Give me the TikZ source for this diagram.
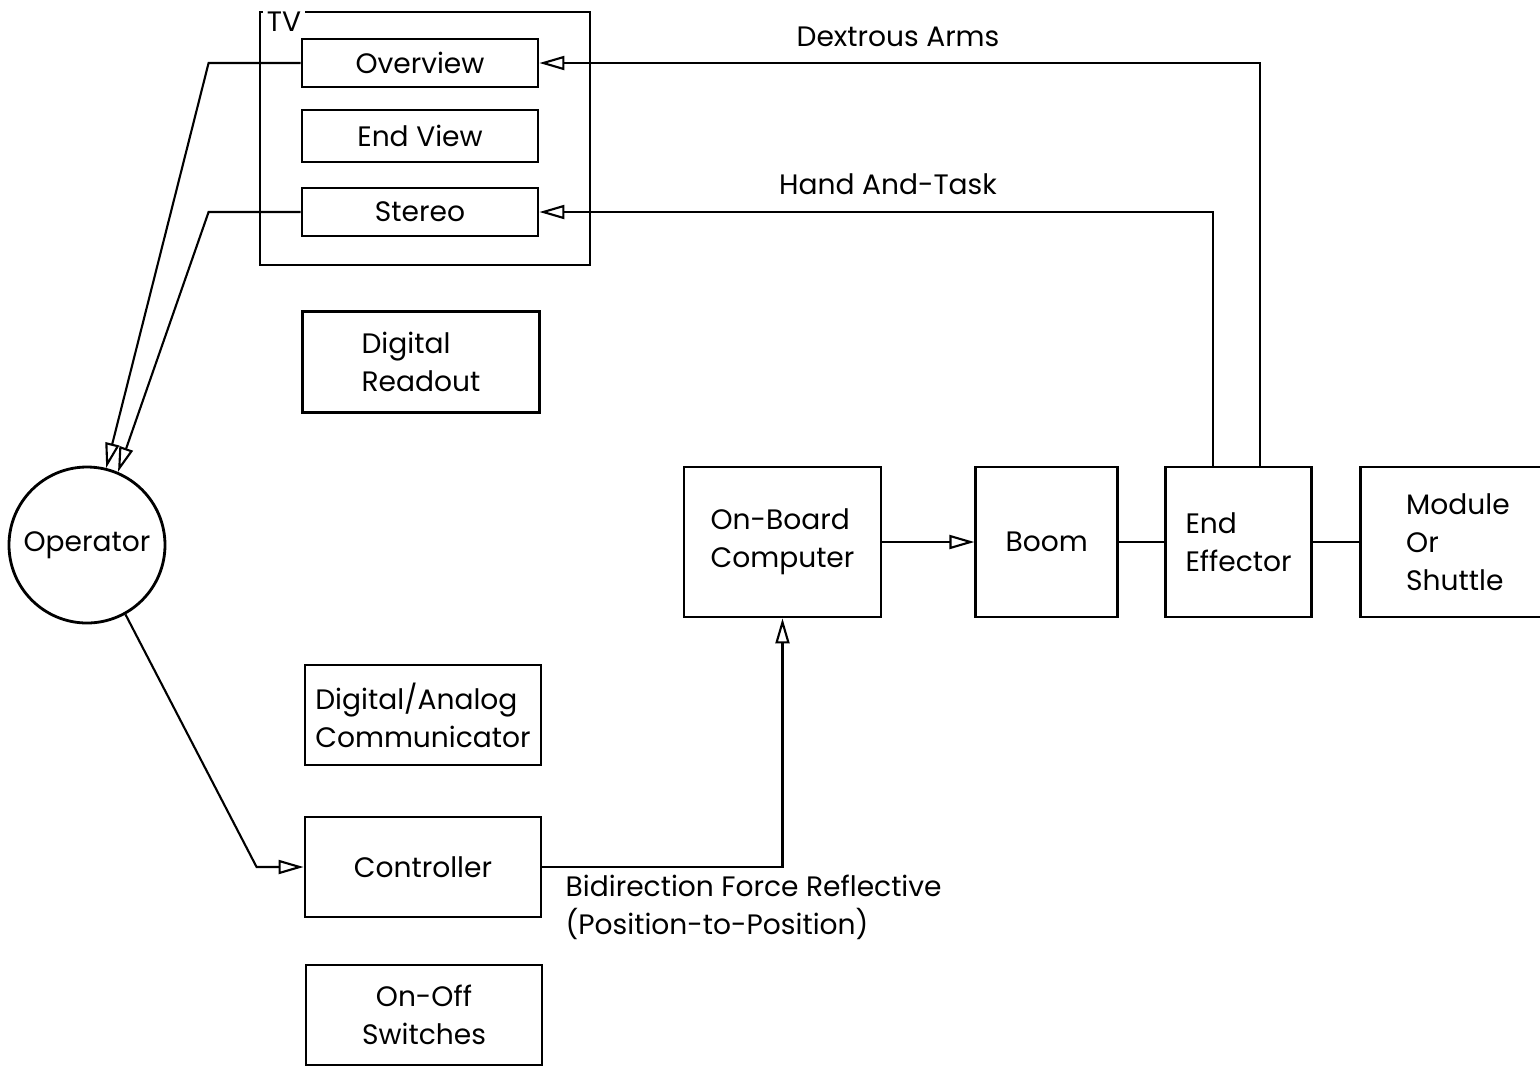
\documentclass[tikz,border=0pt]{standalone}
\usepackage{fontspec}
\setmainfont{Poppins}
\usetikzlibrary{arrows.meta,positioning,calc}

\begin{document}
\begin{tikzpicture}[
    every node/.style={font=\fontsize{8}{10.8}\selectfont},
    box/.style={rectangle, draw, line width=0.8pt, align=left,
                minimum height=1.0cm, minimum width=2.36cm, inner sep=2pt},
    tvbox/.style={rectangle, draw, line width=0.8pt, minimum height=0.48cm,
                  minimum width=2.36cm, inner sep=1pt},
    big/.style={rectangle, draw, line width=0.8pt, align=left, minimum height=1.5cm},
    opnode/.style={circle, draw, line width=0.8pt, minimum size=1.56cm, inner sep=0pt},
    arr/.style={-{Triangle[open,length=2.5mm,width=1.4mm]}, line width=0.6pt},
    wire/.style={line width=0.6pt},
    lbl/.style={align=left, inner sep=0pt},
]
\useasboundingbox (0,0) rectangle (15.4,-10.67);

% TV group
\node[draw, line width=0.8pt, minimum width=3.3cm, minimum height=2.53cm] (tvframe) at (4.25,-1.385) {};
\node[fill=white, inner sep=1pt, anchor=north west] (tv) at ($(tvframe.north west)+(0.04,0.03)$) {TV};
\node[tvbox] (overview) at (4.20,-0.63) {Overview};
\node[tvbox, minimum height=0.52cm] (endview) at (4.20,-1.36) {End View};
\node[tvbox] (stereo) at (4.20,-2.12) {Stereo};

% Left column
\node[opnode] (operator) at (0.87,-5.45) {Operator};
\node[box, minimum width=2.37cm, minimum height=1.01cm] (readout) at (4.21,-3.62) {Digital\\Readout};
\node[box] (comm) at (4.23,-7.15) {Digital/Analog\\Communicator};
\node[box] (controller) at (4.23,-8.67) {Controller};
\node[box, align=center] (onoff) at (4.24,-10.15) {On-Off\\Switches};

% Manipulator chain
\node[big, minimum width=1.97cm] (obc) at (7.825,-5.42) {On-Board\\Computer};
\node[big, minimum width=1.42cm, right=0.92cm of obc] (boom) {Boom};
\node[big, minimum width=1.46cm, right=0.45cm of boom] (effector) {End\\Effector};
\node[big, minimum width=1.95cm, right=0.46cm of effector] (module) {Module\\Or\\Shuttle};

% Labels
\node (dextrous) at (8.98,-0.37) {Dextrous Arms};
\node (handtask) at (8.88,-1.84) {Hand And-Task};
\node[lbl, anchor=north west] (bidir) at (5.65,-8.74) {Bidirection Force Reflective\\(Position-to-Position)};

% Arrows
\draw[arr] (overview.west) -- ++(-0.92,0) -- (operator.76);
\draw[arr] (stereo.west) -- ++(-0.92,0) -- (operator.67);
\draw[arr] (operator.-61) -- ([xshift=-0.47cm]controller.west) -- (controller.west);
\draw[arr] (controller.east) -| (obc.south);
\draw[arr] (obc) -- (boom);
\draw[wire] (boom) -- (effector);
\draw[wire] (effector) -- (module);
\draw[arr] ([xshift=0.21cm]effector.north) |- (overview.east);
\draw[arr] ([xshift=-0.26cm]effector.north) |- (stereo.east);

\end{tikzpicture}
\end{document}
